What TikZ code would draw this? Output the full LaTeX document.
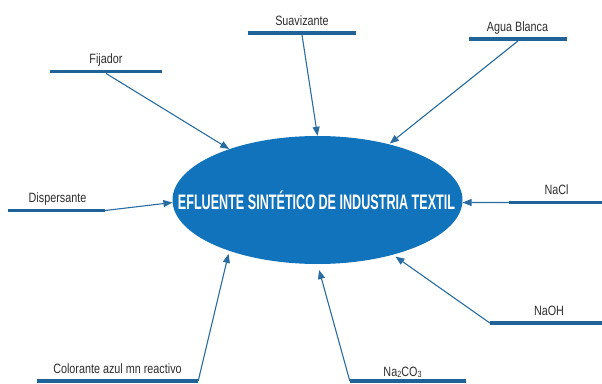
\documentclass[tikz,border=0pt]{standalone}
\usepackage{fontspec}
\setmainfont{Liberation Sans}[FakeStretch=0.8]
\newfontfamily\titlefont{Liberation Sans}[FakeStretch=0.6]
\usetikzlibrary{shapes.geometric,arrows.meta}
\definecolor{barblue}{RGB}{31,99,153}
\definecolor{arrowblue}{RGB}{40,108,162}
\definecolor{ellblue}{RGB}{17,115,187}
\definecolor{labelgray}{RGB}{45,45,45}
\newcommand{\lowdigit}[1]{\raisebox{-0.15ex}{\fontsize{9}{10}\selectfont #1}}
\tikzset{
  barbox/.style={fill=barblue, draw=none, inner sep=0pt, minimum height=3.5pt},
  lbl/.style={anchor=base, inner sep=0pt, text=labelgray, font=\fontsize{13.5}{14}\selectfont},
  feed/.style={draw=arrowblue, line width=1.1pt, -{Triangle[length=9pt,width=7pt]}},
  mainell/.style={ellipse, fill=ellblue, draw=none, inner sep=0pt, minimum width=290pt, minimum height=128pt},
}
\begin{document}
\begin{tikzpicture}[x=1pt,y=1pt]
\useasboundingbox (0,0) rectangle (602,383);
% central ellipse
\node[mainell] (E) at (317.5,183) {};
\node[anchor=base, inner sep=0pt, text=white, font=\titlefont\bfseries\fontsize{21}{22}\selectfont] (T) at (316.5,173) {EFLUENTE SINTÉTICO DE INDUSTRIA TEXTIL};
% bars
\node[barbox, minimum width=112pt] (fijB) at (106,311.5) {};
\node[barbox, minimum width=108pt] (suaB) at (302,350) {};
\node[barbox, minimum width=98pt] (aguB) at (518,344) {};
\node[barbox, minimum width=97pt] (disB) at (56.5,172.5) {};
\node[barbox, minimum width=93pt] (naclB) at (555.5,180.5) {};
\node[barbox, minimum width=112pt] (naohB) at (546,60) {};
\node[barbox, minimum width=116pt] (carbB) at (408,2) {};
\node[barbox, minimum width=161pt] (colB) at (117.5,2) {};
% labels
\node[lbl] (fijT) at (106,319) {Fijador};
\node[lbl] (suaT) at (302,357) {Suavizante};
\node[lbl] (aguT) at (517.5,351) {Agua Blanca};
\node[lbl] (disT) at (57.5,180) {Dispersante};
\node[lbl] (naclT) at (556.5,188) {NaCl};
\node[lbl] (naohT) at (549,68) {NaOH};
\node[lbl] (carbT) at (402.5,7) {Na\lowdigit{2}CO\lowdigit{3}};
\node[lbl] (colT) at (117.5,10) {Colorante azul mn reactivo};
% arrows
\draw[feed] (fijB.south) -- (E.150);
\draw[feed] (suaB.south) -- (E.90.5);
\draw[feed, shorten >=1pt] (aguB.south) -- (E.38.6);
\draw[feed] (disB.east) -- (E.181);
\draw[feed] (naclB.west) -- (E.-1);
\draw[feed, shorten >=3pt] (naohB.west) -- (E.-36);
\draw[feed, shorten >=6pt] (carbB.west) -- (E.-90);
\draw[feed, shorten >=3pt] (colB.east) -- (E.-150);
\end{tikzpicture}
\end{document}
